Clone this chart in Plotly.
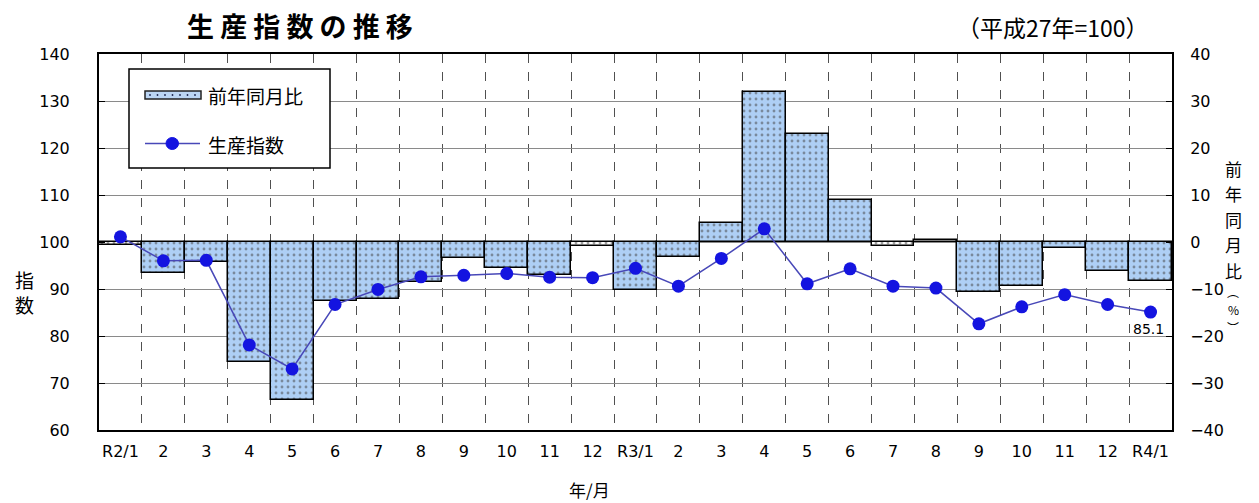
import plotly.graph_objects as go

# ---- data ----
month_labels = ["R2/1", "2", "3", "4", "5", "6", "7", "8", "9", "10", "11", "12",
                "R3/1", "2", "3", "4", "5", "6", "7", "8", "9", "10", "11", "12", "R4/1"]
yoy_pct = [-0.7, -6.7, -4.3, -25.6, -33.7, -12.5, -12.1, -8.5, -3.5, -5.5, -7.1, -0.9,
           -10.2, -3.1, 4.0, 32.0, 23.0, 9.0, -0.8, 0.4, -10.7, -9.4, -1.3, -6.1, -8.4]
prod_index = [101.1, 96.0, 96.1, 78.1, 73.0, 86.7, 89.9, 92.6, 92.9, 93.3, 92.5, 92.4,
              94.4, 90.6, 96.5, 102.8, 91.1, 94.3, 90.6, 90.2, 82.6, 86.2, 88.8, 86.7, 85.1]
left_ticks = [60, 70, 80, 90, 100, 110, 120, 130, 140]
right_ticks = [-40, -30, -20, -10, 0, 10, 20, 30, 40]
last_label = "85.1"

JP = "Noto Sans CJK JP"
NUM = "DejaVu Sans"
W, H = 1259, 503
L, R, T, B = 99, 1172, 54, 430

BAR_BG = "#aecff5"
BAR_DOT = "#1e2650"
LINE_C = "#4848b8"
MARK_C = "#1414e0"


def px(x):
    return (x - L) / (R - L)


def py(y):
    return (B - y) / (B - T)


xs = list(range(len(month_labels)))
bar_bg = ["#ffffff" if abs(v) < 1 else BAR_BG for v in yoy_pct]
bar_fg = ["#ffffff" if abs(v) < 1 else BAR_DOT for v in yoy_pct]

fig = go.Figure()
fig.add_trace(go.Bar(
    x=xs, y=yoy_pct, name="前年同月比", yaxis="y", width=1.0, showlegend=False,
    marker=dict(color=bar_bg, line=dict(color="black", width=1.5),
                pattern=dict(shape=".", fgcolor=bar_fg, size=6, solidity=0.18,
                             fillmode="overlay")),
))
fig.add_trace(go.Scatter(
    x=xs, y=prod_index, name="生産指数", yaxis="y2", mode="lines+markers",
    showlegend=False,
    line=dict(color=LINE_C, width=1.5),
    marker=dict(color=MARK_C, size=13),
))

annotations = [
    dict(text="<b>生 産 指 数 の 推 移</b>", x=px(300), y=py(26), font=dict(size=27)),
    dict(text="（平成27年=100）", x=px(1053), y=py(27), font=dict(size=23)),
    dict(text="指<br>数", x=px(24), y=py(292), font=dict(size=19)),
    dict(text="年/月", x=px(589), y=py(489), font=dict(size=17)),
]
# right axis title, stacked vertically
for ch, yy, fs in [("前", 168, 17), ("年", 193.5, 17), ("同", 219, 17), ("月", 244.5, 17),
                   ("比", 270, 17), ("︵", 291, 12), ("%", 309, 12), ("︶", 327, 12)]:
    annotations.append(dict(text=ch, x=px(1233), y=py(yy), font=dict(size=fs)))
for a in annotations:
    a.update(xref="paper", yref="paper", showarrow=False,
             xanchor="center", yanchor="middle")
    a["font"]["family"] = JP

# manual legend text
annotations += [
    dict(text="前年同月比", x=px(206), y=py(95), xref="paper", yref="paper",
         xanchor="left", yanchor="middle", showarrow=False,
         font=dict(size=19, family=JP)),
    dict(text="生産指数", x=px(206), y=py(144), xref="paper", yref="paper",
         xanchor="left", yanchor="middle", showarrow=False,
         font=dict(size=19, family=JP)),
]
annotations.append(dict(text=last_label, x=xs[-1], y=prod_index[-1], xref="x", yref="y2",
                        showarrow=False, yshift=-17, xshift=-2,
                        font=dict(size=14, family=NUM, color="black")))

# manual legend box and symbols (paper coords)
shapes = [
    dict(type="rect", xref="paper", yref="paper", x0=px(129), x1=px(330),
         y0=py(168), y1=py(69), line=dict(color="black", width=1.5), fillcolor="white",
         layer="above"),
    dict(type="rect", xref="paper", yref="paper", x0=px(145), x1=px(201),
         y0=py(99), y1=py(91), line=dict(color="#222", width=1.5), fillcolor="#bcd6f4",
         layer="above"),
    dict(type="line", xref="paper", yref="paper", x0=px(145), x1=px(200),
         y0=py(143.5), y1=py(143.5), line=dict(color=LINE_C, width=1.5), layer="above"),
    dict(type="circle", xref="paper", yref="paper", x0=px(166), x1=px(178.5),
         y0=py(149.5), y1=py(137.5), line=dict(color=MARK_C, width=1),
         fillcolor=MARK_C, layer="above"),
]
for k in range(7):
    cx = 150 + k * 7.5
    shapes.append(dict(type="circle", xref="paper", yref="paper",
                       x0=px(cx - 0.9), x1=px(cx + 0.9), y0=py(95.9), y1=py(94.1),
                       line=dict(width=0), fillcolor=BAR_DOT, layer="above"))

fig.update_layout(
    width=W, height=H, autosize=False,
    margin=dict(l=L, r=W - R, t=T, b=H - B),
    paper_bgcolor="white", plot_bgcolor="white",
    font=dict(family=JP, color="black", size=15),
    bargap=0,
    showlegend=False,
    xaxis=dict(
        range=[-0.5, len(xs) - 0.5], tickmode="array", tickvals=xs, ticktext=month_labels,
        showgrid=False, zeroline=False, showline=True, linecolor="black", linewidth=2,
        mirror=True, ticks="", tickfont=dict(size=16, family=NUM), ticklabelstandoff=6,
        minor=dict(tickmode="array", tickvals=[i + 0.5 for i in xs[:-1]],
                   showgrid=True, gridcolor="#505050", griddash="dash", gridwidth=1,
                   ticks=""),
    ),
    yaxis=dict(
        range=[-40, 40], tickmode="array", tickvals=right_ticks, side="right",
        showgrid=True, gridcolor="#8a8a8a", gridwidth=1.2, zeroline=False,
        showline=True, linecolor="black", linewidth=2, mirror=True,
        ticks="inside", ticklen=6, tickcolor="black", tickfont=dict(size=16, family=NUM),
        ticklabelstandoff=13,
    ),
    yaxis2=dict(
        range=[60, 140], tickmode="array", tickvals=left_ticks, side="left",
        overlaying="y", showgrid=False, zeroline=False,
        showline=True, linecolor="black", linewidth=2,
        ticks="inside", ticklen=6, tickcolor="black", tickfont=dict(size=16, family=NUM),
        ticklabelstandoff=24,
    ),
    annotations=annotations,
    shapes=shapes,
)

fig.write_html("out.html", config={"displayModeBar": False},
               post_script="document.body.style.margin='0';"
                           "document.body.style.overflow='hidden';")
